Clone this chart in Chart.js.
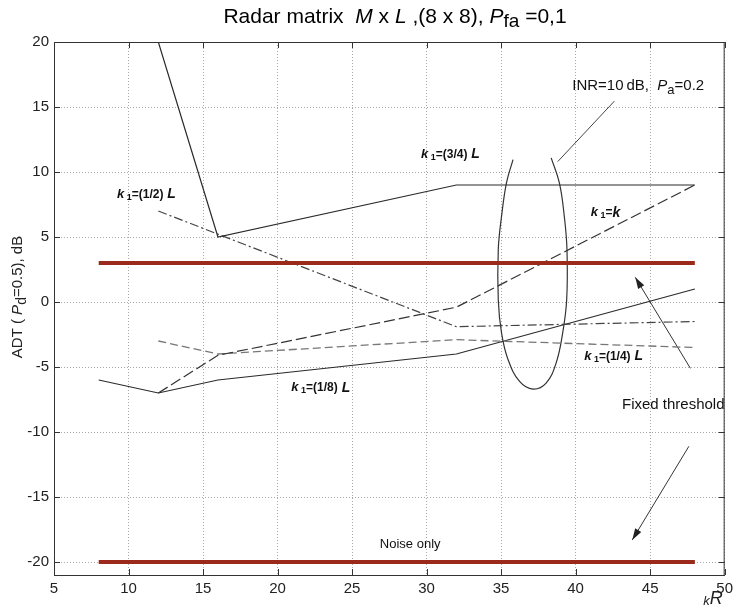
<!DOCTYPE html>
<html>
<head>
<meta charset="utf8">
<title>Radar matrix</title>
<style>
  html,body{margin:0;padding:0;background:#fff}
  #wrap{width:738px;height:607px}
</style>
</head>
<body>
<div id="wrap"><canvas id="radarChart" width="738" height="607"></canvas></div>
<script src="https://cdn.jsdelivr.net/npm/chart.js@4.4.0/dist/chart.umd.min.js"></script>
<script>
// values
var xTicks = [5, 10, 15, 20, 25, 30, 35, 40, 45, 50];
var yTicks = [-20, -15, -10, -5, 0, 5, 10, 15, 20];

var k34X = [12, 16, 32, 48];
var k34Y = [20, 5, 9, 9];
var k12X = [12, 32, 48];
var k12Y = [7, -1.9, -1.5];
var kkX = [12, 16, 32, 48];
var kkY = [-7, -4.1, -0.4, 9];
var k14X = [12, 16, 32, 48];
var k14Y = [-3, -4, -2.9, -3.5];
var k18X = [8, 12, 16, 32, 48];
var k18Y = [-6, -7, -6, -4, 1];

var fixedX = [8, 48];
var fixedY = [3, 3];
var noiseX = [8, 48];
var noiseY = [-20, -20];

// ellipse (open at the top)
var ellX = [35.8, 35.36, 35.03, 34.81, 34.81, 35.03, 35.47, 36.24, 37.14, 38.02, 38.69, 39.13, 39.4, 39.42, 39.24, 38.91, 38.36];
var ellY = [10.95, 9.16, 6.59, 4.03, 0.18, -2.39, -4.44, -6.11, -6.7, -6.24, -4.7, -2.39, 0.18, 4.03, 6.59, 9.16, 11.09];

var ptrX = [38.8, 42.6];
var ptrY = [10.8, 15.45];
var arrUpX = [47.7, 44.0];
var arrUpY = [-5.1, 1.9];
var arrDnX = [47.6, 43.8];
var arrDnY = [-11.1, -18.3];

function pts(xs, ys){
    var a = [];
    for (var i = 0; i < xs.length; i++) a.push({x: xs[i], y: ys[i]});
    return a;
}
function ds(xs, ys, color, width, dash, tension){
    return {
        data: pts(xs, ys),
        borderColor: color,
        borderWidth: width,
        borderDash: dash || [],
        pointRadius: 0,
        tension: tension || 0,
        fill: false
    };
}

var FONT = '"Liberation Sans", Arial, sans-serif';

// draws a run of differently styled text pieces
function rich(ctx, parts, x, y, align){
    var w = 0;
    parts.forEach(function(p){ ctx.font = p.f; p.w = ctx.measureText(p.t).width; w += p.w; });
    var cx = align === 'center' ? x - w / 2 : (align === 'right' ? x - w : x);
    ctx.textBaseline = 'middle';
    ctx.textAlign = 'left';
    parts.forEach(function(p){
        ctx.font = p.f;
        ctx.fillText(p.t, cx, y + (p.dy || 0));
        cx += p.w;
    });
}

function kLabel(frac){
    return [
        {t: 'k', f: 'italic bold 13px ' + FONT},
        {t: ' 1', f: 'bold 9px ' + FONT, dy: 3},
        {t: '=' + frac, f: 'bold 12px ' + FONT},
        {t: frac ? ' L' : 'k', f: 'italic bold 14px ' + FONT}
    ];
}

var decor = {
    id: 'decor',
    afterDraw: function(chart){
        var ctx = chart.ctx, a = chart.chartArea;
        var xs = chart.scales.x, ys = chart.scales.y;
        ctx.save();
        // box + inward ticks
        ctx.strokeStyle = '#333';
        ctx.lineWidth = 1;
        ctx.strokeRect(a.left + 0.5, a.top + 0.5, a.right - a.left - 1, a.bottom - a.top);
        ctx.beginPath();
        xTicks.forEach(function(v){
            var p = Math.round(xs.getPixelForValue(v)) + 0.5;
            ctx.moveTo(p, a.bottom); ctx.lineTo(p, a.bottom - 6);
            ctx.moveTo(p, a.top); ctx.lineTo(p, a.top + 6);
        });
        yTicks.forEach(function(v){
            var p = Math.round(ys.getPixelForValue(v)) + 0.5;
            ctx.moveTo(a.left, p); ctx.lineTo(a.left + 6, p);
            ctx.moveTo(a.right, p); ctx.lineTo(a.right - 6, p);
        });
        ctx.stroke();

        // arrow heads
        function head(tx, ty, hx, hy){
            var x1 = xs.getPixelForValue(tx), y1 = ys.getPixelForValue(ty);
            var x2 = xs.getPixelForValue(hx), y2 = ys.getPixelForValue(hy);
            var ang = Math.atan2(y2 - y1, x2 - x1);
            ctx.fillStyle = '#222';
            ctx.beginPath();
            ctx.moveTo(x2, y2);
            ctx.lineTo(x2 - 12 * Math.cos(ang - 0.3), y2 - 12 * Math.sin(ang - 0.3));
            ctx.lineTo(x2 - 12 * Math.cos(ang + 0.3), y2 - 12 * Math.sin(ang + 0.3));
            ctx.closePath();
            ctx.fill();
        }
        head(arrUpX[0], arrUpY[0], arrUpX[1], arrUpY[1]);
        head(arrDnX[0], arrDnY[0], arrDnX[1], arrDnY[1]);

        // labels in the plot
        ctx.fillStyle = '#111';
        function at(v, w){ return [xs.getPixelForValue(v), ys.getPixelForValue(w)]; }
        var p;
        p = at(31.6, 11.35); rich(ctx, kLabel('(3/4)'), p[0], p[1], 'center');
        p = at(11.2, 8.27); rich(ctx, kLabel('(1/2)'), p[0], p[1], 'center');
        p = at(42.0, 6.86); rich(ctx, kLabel(''), p[0], p[1], 'center');
        p = at(42.55, -4.17); rich(ctx, kLabel('(1/4)'), p[0], p[1], 'center');
        p = at(22.9, -6.6); rich(ctx, kLabel('(1/8)'), p[0], p[1], 'center');

        p = at(46.55, -7.95);
        rich(ctx, [{t: 'Fixed threshold', f: '15px ' + FONT}], p[0], p[1], 'center');
        p = at(28.9, -18.65);
        rich(ctx, [{t: 'Noise only', f: '13px ' + FONT}], p[0], p[1], 'center');
        p = at(44.2, 16.6);
        rich(ctx, [
            {t: 'INR=10\u2009dB,  ', f: '15px ' + FONT},
            {t: 'P', f: 'italic 15px ' + FONT},
            {t: 'a', f: '13px ' + FONT, dy: 4},
            {t: '=0.2', f: '15px ' + FONT}
        ], p[0], p[1], 'center');

        // title
        ctx.fillStyle = '#000';
        rich(ctx, [
            {t: 'Radar matrix  ', f: '21px ' + FONT},
            {t: 'M', f: 'italic 21px ' + FONT},
            {t: ' x ', f: '21px ' + FONT},
            {t: 'L', f: 'italic 21px ' + FONT},
            {t: ' ,(8 x 8), ', f: '21px ' + FONT},
            {t: 'P', f: 'italic 21px ' + FONT},
            {t: 'fa', f: '19px ' + FONT, dy: 5},
            {t: ' =0,1', f: '21px ' + FONT}
        ], 395, 17, 'center');

        // x axis name
        ctx.fillStyle = '#222';
        rich(ctx, [
            {t: 'k', f: 'italic 13px ' + FONT, dy: 2},
            {t: 'R', f: 'italic 18px ' + FONT}
        ], 713, 599, 'center');

        // y axis name
        ctx.translate(18, 297);
        ctx.rotate(-Math.PI / 2);
        rich(ctx, [
            {t: 'ADT ( ', f: '15px ' + FONT},
            {t: 'P', f: 'italic 15px ' + FONT},
            {t: 'd', f: '14px ' + FONT, dy: 4},
            {t: '=0.5), dB', f: '15px ' + FONT}
        ], 0, 0, 'center');
        ctx.restore();
    }
};

new Chart(document.getElementById('radarChart'), {
    type: 'line',
    data: {
        datasets: [
            ds(fixedX, fixedY, '#9c2a1c', 4),
            ds(noiseX, noiseY, '#9c2a1c', 4),
            ds(k34X, k34Y, '#2a2a2a', 1.2),
            ds(k12X, k12Y, '#444', 1.2, [9, 3, 2, 3]),
            ds(kkX, kkY, '#333', 1.2, [11, 4]),
            ds(k14X, k14Y, '#777', 1.3, [8, 4]),
            ds(k18X, k18Y, '#2a2a2a', 1.2),
            ds(ellX, ellY, '#333', 1.2, [], 0.4),
            ds(ptrX, ptrY, '#444', 1),
            ds(arrUpX, arrUpY, '#333', 1),
            ds(arrDnX, arrDnY, '#333', 1)
        ]
    },
    options: {
        responsive: false,
        animation: false,
        layout: {padding: {top: 42, right: 8, left: 0, bottom: 0}},
        plugins: {legend: {display: false}, tooltip: {enabled: false}},
        scales: {
            x: {
                type: 'linear', min: 5, max: 50,
                afterBuildTicks: function(s){ s.ticks = xTicks.map(function(v){ return {value: v}; }); },
                afterFit: function(s){ s.height = 32; },
                ticks: {font: {size: 15, family: FONT}, color: '#222', padding: 5, maxRotation: 0, autoSkip: false},
                grid: {color: '#a8a8a8', drawTicks: false},
                border: {display: true, color: '#333', dash: [1, 2]}
            },
            y: {
                type: 'linear', min: -21, max: 20,
                afterBuildTicks: function(s){ s.ticks = yTicks.map(function(v){ return {value: v}; }); },
                afterFit: function(s){ s.width = 54; },
                ticks: {font: {size: 15, family: FONT}, color: '#222', padding: 5},
                grid: {color: '#a8a8a8', drawTicks: false},
                border: {display: true, color: '#333', dash: [1, 2]}
            }
        }
    },
    plugins: [decor]
});
</script>
</body>
</html>
